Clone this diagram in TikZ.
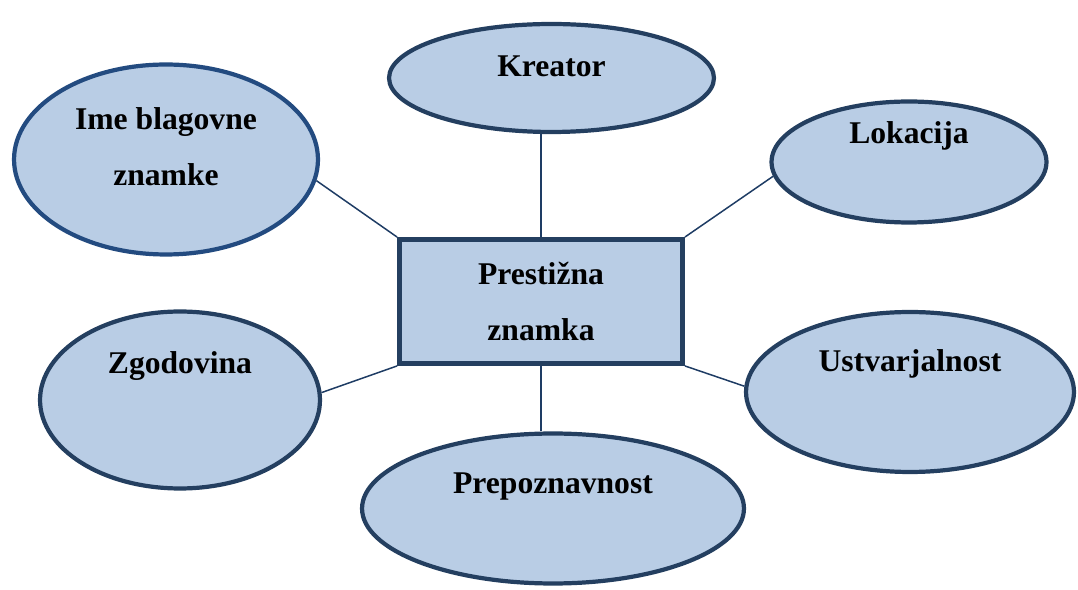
\documentclass[tikz,border=0pt]{standalone}
\usepackage{fontspec}
\setmainfont{Liberation Serif}
\usepackage{xcolor}
\usepackage{tikz}
\usetikzlibrary{positioning,shapes.geometric}
\definecolor{ovalfill}{RGB}{185,205,229}
\definecolor{ovalline}{RGB}{36,63,96}
\definecolor{imeline}{RGB}{35,75,128}
\definecolor{linkline}{RGB}{30,60,100}

\begin{document}
\begin{tikzpicture}[x=0.02cm,y=-0.02cm,
    idea/.style={ellipse,draw=ovalline,line width=2.4pt,fill=ovalfill,inner sep=0pt},
    core/.style={rectangle,draw=ovalline,line width=2.8pt,fill=ovalfill,
        minimum width=5.66cm,minimum height=2.48cm,inner sep=0pt},
    tag/.style={font=\fontsize{18}{32}\selectfont\bfseries,align=center},
    link/.style={draw=linkline,line width=0.85pt}]

    \useasboundingbox (0,0) rectangle (1078,590);

    % centre
    \node[core,tag] (prest) at (541,301.5) {Prestižna\\ znamka};

    % ovals
    \node[idea,minimum width=6.5cm,minimum height=2.16cm,
        label={[tag,yshift=0.24cm]center:Kreator}] (kre) at (551.5,78) {};
    \node[idea,draw=imeline,minimum width=6.08cm,minimum height=3.8cm,
        label={[tag,yshift=0.26cm]center:Ime blagovne\\ znamke}] (ime) at (166,159.5) {};
    \node[idea,minimum width=5.5cm,minimum height=2.42cm,
        label={[tag,yshift=0.52cm]center:Lokacija}] (lok) at (909,162) {};
    \node[idea,minimum width=5.6cm,minimum height=3.54cm,
        label={[tag,yshift=0.68cm]center:Zgodovina}] (zgo) at (180,400) {};
    \node[idea,minimum width=6.56cm,minimum height=3.2cm,
        label={[tag,yshift=0.56cm]center:Ustvarjalnost}] (ust) at (910,392) {};
    \node[idea,minimum width=7.64cm,minimum height=3.0cm,
        label={[tag,yshift=0.44cm]center:Prepoznavnost}] (pre) at (553,508.5) {};

    % connectors
    \draw[link] (prest.north) -- (prest.north |- kre.south);
    \draw[link] (prest.south) -- (prest.south |- pre.north);
    \draw[link] (prest.north west) -- (ime.-8);
    \draw[link] (prest.north east) -- (lok.186);
    \draw[link] (prest.south west) -- (zgo.3);
    \draw[link] (prest.south east) -- (ust.178);

\end{tikzpicture}
\end{document}
